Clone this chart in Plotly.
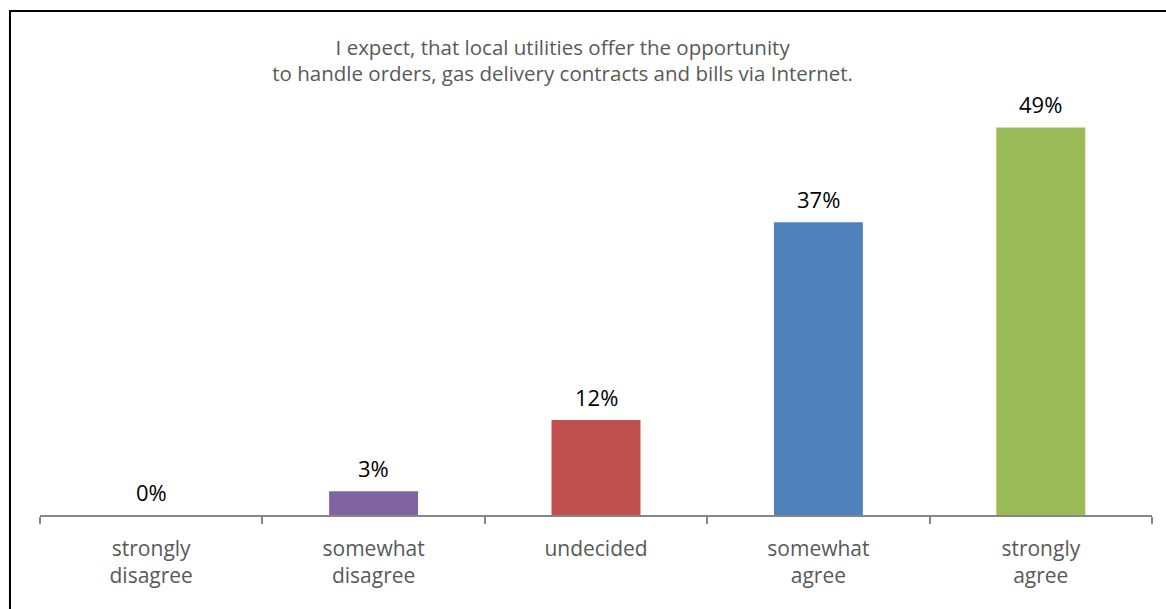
import plotly.graph_objects as go

categories = ["strongly<br>disagree", "somewhat<br>disagree", "undecided",
              "somewhat<br>agree", "strongly<br>agree"]
values = [0, 3, 12, 37, 49]
labels = ["0%", "3%", "12%", "37%", "49%"]
colors = ["#8064A2", "#8064A2", "#C0504D", "#4F81BD", "#9BBB59"]

title_text = ("I expect, that local utilities offer the opportunity<br>"
              "to handle orders, gas delivery contracts and bills via Internet.")

FONT = "'Open Sans', sans-serif"

fig = go.Figure()
fig.add_trace(go.Bar(
    x=categories, y=values, marker=dict(color=colors, line=dict(width=0)),
    width=0.4, hoverinfo="skip",
))

# value labels above the bars
for c, v, t in zip(categories, values, labels):
    fig.add_annotation(x=c, y=v, text=t, showarrow=False, yanchor="bottom",
                       yshift=6, font=dict(family=FONT, size=22, color="#000000"))

# outer chart border
fig.add_shape(type="rect", xref="paper", yref="paper",
              x0=-0.027, x1=1.2, y0=-0.6, y1=1.1586,
              line=dict(color="#000000", width=2), fillcolor="rgba(0,0,0,0)")

fig.update_layout(
    width=1166, height=609,
    margin=dict(l=40, r=14, t=80, b=94),
    paper_bgcolor="white", plot_bgcolor="white",
    showlegend=False,
    font=dict(family=FONT, color="#595959"),
    title=dict(text=title_text, x=0.470, xanchor="center", y=0.9105, yanchor="middle",
               xref="paper",
               font=dict(family=FONT, size=20.5, color="#595959")),
    xaxis=dict(
        showline=True, linecolor="#868686", linewidth=1.5,
        ticks="outside", ticklen=7, tickcolor="#868686", tickwidth=1.5,
        tickson="boundaries", tickfont=dict(family=FONT, size=21, color="#595959"),
        ticklabelstandoff=14, showgrid=False, zeroline=False,
    ),
    yaxis=dict(visible=False, range=[0, 55], showgrid=False, zeroline=False),
)

fig.write_html("out.html")
